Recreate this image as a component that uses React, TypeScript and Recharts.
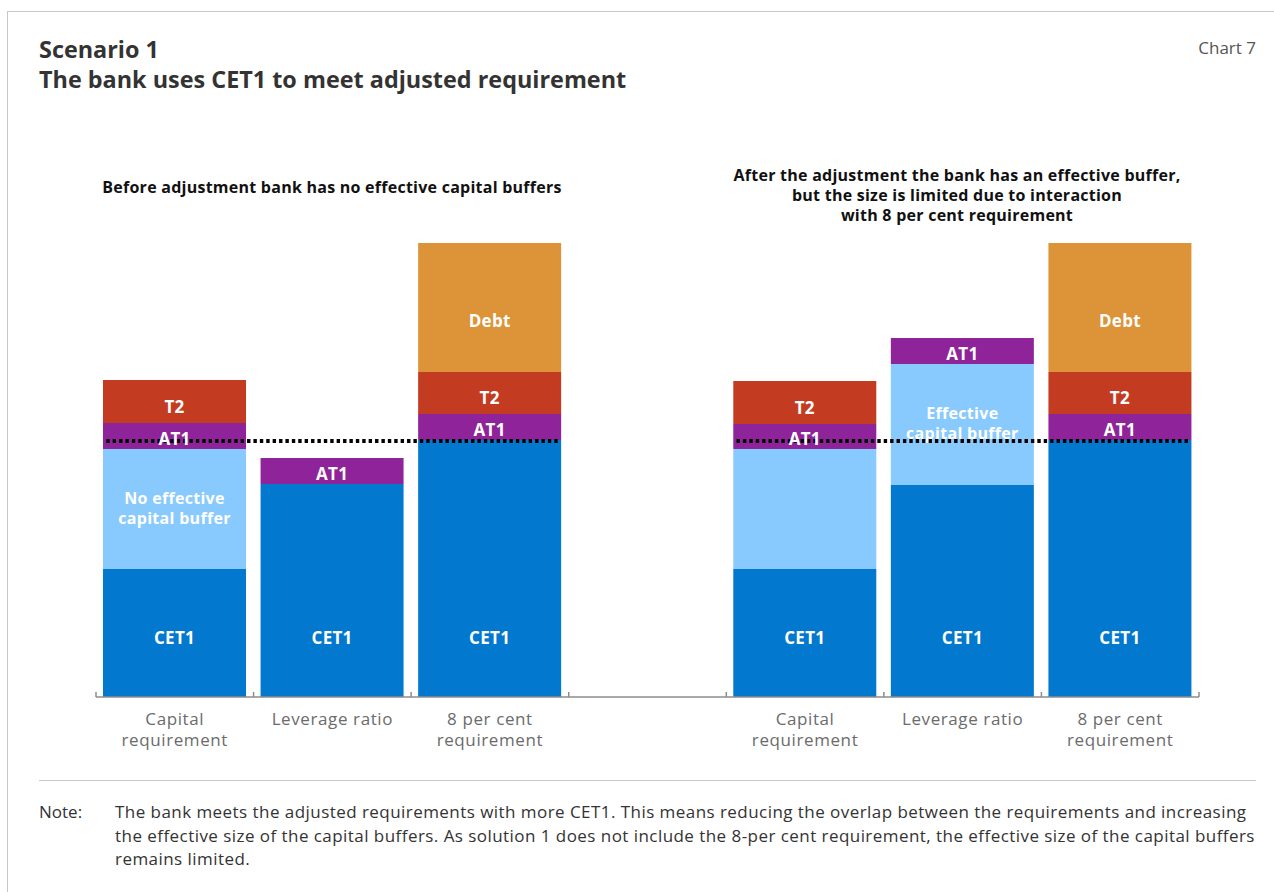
import { Bar, BarChart, LabelList, ReferenceLine, XAxis, YAxis } from 'recharts';

const FONT = '"Open Sans", "Noto Sans", sans-serif';

const categories = [
  'Capital requirement',
  'Leverage ratio',
  '8 per cent requirement',
  '',
  'Capital requirement',
  'Leverage ratio',
  '8 per cent requirement',
];

// Stacked segments, bottom to top (arbitrary units).
const cet1 = [12.8, 21.3, 25.7, 0, 12.8, 21.2, 25.7];
const buffer = [12.0, 0, 0, 0, 12.0, 12.1, 0];
const at1 = [2.6, 2.6, 2.6, 0, 2.5, 2.6, 2.6];
const t2 = [4.3, 0, 4.2, 0, 4.3, 0, 4.2];
const debt = [0, 0, 12.9, 0, 0, 0, 12.9];

const cet1Labels = ['CET1', 'CET1', 'CET1', '', 'CET1', 'CET1', 'CET1'];
const bufferLabels = ['No effective capital buffer', '', '', '', '', 'Effective capital buffer', ''];
const at1Labels = ['AT1', 'AT1', 'AT1', '', 'AT1', 'AT1', 'AT1'];
const t2Labels = ['T2', '', 'T2', '', 'T2', '', 'T2'];
const debtLabels = ['', '', 'Debt', '', '', '', 'Debt'];

// Dotted line: level of CET1 in the 8 per cent requirement, drawn over each panel.
const dottedLevel = 25.6;
const panels = [
  { from: 0, to: 3 },
  { from: 4, to: 7 },
];

const Y_MAX = 50;

const COLORS = {
  cet1: '#0378cf',
  buffer: '#88cafd',
  at1: '#8f2399',
  t2: '#c33c21',
  debt: '#dd9338',
};

const data = categories.map((category, i) => ({
  category,
  slot: i,
  cet1: cet1[i],
  buffer: buffer[i],
  at1: at1[i],
  t2: t2[i],
  debt: debt[i],
  cet1Label: cet1Labels[i],
  bufferLabel: bufferLabels[i],
  at1Label: at1Labels[i],
  t2Label: t2Labels[i],
  debtLabel: debtLabels[i],
}));

const boundaryTicks = Array.from({ length: categories.length + 1 }, (_, i) => i);

// fraction of a band left empty on each side of a bar
const BAR_INSET = 0.065;

function segmentLabel(nudge: number, fromBottom?: number, fontSize = 17) {
  return (props: any) => {
    const box = props.viewBox ?? props;
    const { x, y, width, height } = box;
    if (!props.value || !height) return null;
    const cy = fromBottom != null ? y + height - fromBottom : y + height / 2 + nudge;
    const text = String(props.value);
    const lines = text.includes(' capital') ? text.split(/ (?=capital)/) : [text];
    const lineH = 20;
    const firstBaseline = cy - ((lines.length - 1) * lineH) / 2 + fontSize * 0.36;
    return (
      <text
        x={x + width / 2}
        y={firstBaseline}
        textAnchor="middle"
        fill="#ffffff"
        fontSize={fontSize}
        fontWeight={700}
        fontFamily={FONT}
        style={{ letterSpacing: 0.3 }}
      >
        {lines.map((l, i) => (
          <tspan key={i} x={x + width / 2} dy={i === 0 ? 0 : lineH}>
            {l}
          </tspan>
        ))}
      </text>
    );
  };
}

function CategoryTick({ x, y, payload }: any) {
  const value: string = payload?.value ?? '';
  if (!value) return null;
  const lines = value.includes(' requirement')
    ? [value.replace(' requirement', ''), 'requirement']
    : [value];
  return (
    <text
      x={x}
      y={y}
      textAnchor="middle"
      fill="#6b6b6b"
      fontSize={17}
      fontFamily={FONT}
      style={{ letterSpacing: 0.6 }}
    >
      {lines.map((l, i) => (
        <tspan key={i} x={x} dy={i === 0 ? 20 : 21}>
          {l}
        </tspan>
      ))}
    </text>
  );
}

export default function App() {
  return (
    <div
      style={{
        position: 'absolute',
        left: 0,
        top: 0,
        width: 1274,
        height: 892,
        background: '#fff',
        fontFamily: FONT,
        color: '#333',
        overflow: 'hidden',
      }}
    >
      <div
        style={{
          position: 'absolute',
          left: 7,
          top: 11,
          width: 1267,
          height: 881,
          borderTop: '1px solid #c8c8c8',
          borderLeft: '1px solid #c8c8c8',
        }}
      />
      <div style={{ position: 'absolute', left: 0, top: 0 }}>
        <BarChart
          width={1274}
          height={892}
          data={data}
          barSize={143}
          margin={{ top: 197, right: 75, bottom: 135, left: 96 }}
        >
          <YAxis hide domain={[0, Y_MAX]} />
          <XAxis
            xAxisId="num"
            dataKey="slot"
            type="number"
            domain={[0, categories.length]}
            allowDataOverflow
            ticks={boundaryTicks}
            tickFormatter={() => ''}
            tickSize={5}
            mirror
            height={5}
            axisLine={{ stroke: '#8c8c8c', strokeWidth: 1.5 }}
            tickLine={{ stroke: '#8c8c8c', strokeWidth: 1.5 }}
          />
          <XAxis
            xAxisId="cat"
            dataKey="category"
            height={60}
            interval={0}
            axisLine={false}
            tickLine={false}
            tick={<CategoryTick />}
          />
          <Bar xAxisId="cat" dataKey="cet1" stackId="s" fill={COLORS.cet1} isAnimationActive={false}>
            <LabelList dataKey="cet1Label" content={segmentLabel(0, 59)} />
          </Bar>
          <Bar xAxisId="cat" dataKey="buffer" stackId="s" fill={COLORS.buffer} isAnimationActive={false}>
            <LabelList dataKey="bufferLabel" content={segmentLabel(-1, undefined, 16)} />
          </Bar>
          <Bar xAxisId="cat" dataKey="at1" stackId="s" fill={COLORS.at1} isAnimationActive={false}>
            <LabelList dataKey="at1Label" content={segmentLabel(2.5)} />
          </Bar>
          <Bar xAxisId="cat" dataKey="t2" stackId="s" fill={COLORS.t2} isAnimationActive={false}>
            <LabelList dataKey="t2Label" content={segmentLabel(5)} />
          </Bar>
          <Bar xAxisId="cat" dataKey="debt" stackId="s" fill={COLORS.debt} isAnimationActive={false}>
            <LabelList dataKey="debtLabel" content={segmentLabel(13)} />
          </Bar>
          {panels.map((p, i) => (
            <ReferenceLine
              key={i}
              xAxisId="num"
              segment={[
                { x: p.from + BAR_INSET, y: dottedLevel },
                { x: p.to - BAR_INSET, y: dottedLevel },
              ]}
              stroke="#000"
              strokeWidth={4}
              strokeDasharray="3.4 3"
            />
          ))}
        </BarChart>
      </div>

      <div
        style={{
          position: 'absolute',
          left: 39,
          top: 34,
          fontSize: 23.4,
          fontWeight: 700,
          lineHeight: '30px',
          color: '#333',
        }}
      >
        <div>Scenario 1</div>
        <div>The bank uses CET1 to meet adjusted requirement</div>
      </div>
      <div
        style={{
          position: 'absolute',
          right: 18,
          top: 36,
          fontSize: 17,
          color: '#555',
        }}
      >
        Chart 7
      </div>

      <div
        style={{
          position: 'absolute',
          left: 82,
          width: 500,
          top: 177,
          textAlign: 'center',
          fontSize: 16,
          letterSpacing: 0.25,
          fontWeight: 700,
          lineHeight: '20px',
          color: '#111',
        }}
      >
        Before adjustment bank has no effective capital buffers
      </div>
      <div
        style={{
          position: 'absolute',
          left: 707,
          width: 500,
          top: 165,
          textAlign: 'center',
          fontSize: 16,
          letterSpacing: 0.25,
          fontWeight: 700,
          lineHeight: '20px',
          color: '#111',
        }}
      >
        <div>After the adjustment the bank has an effective buffer,</div>
        <div>but the size is limited due to interaction</div>
        <div>with 8 per cent requirement</div>
      </div>

      <div
        style={{
          position: 'absolute',
          left: 39,
          top: 780,
          width: 1217,
          borderTop: '1px solid #c8c8c8',
        }}
      />
      <div
        style={{
          position: 'absolute',
          left: 39,
          top: 800,
          fontSize: 17,
          lineHeight: '23.5px',
          color: '#333',
        }}
      >
        Note:
      </div>
      <div
        style={{
          position: 'absolute',
          left: 115,
          top: 800,
          width: 1150,
          fontSize: 17,
          letterSpacing: 0.45,
          lineHeight: '23.5px',
          color: '#333',
          whiteSpace: 'nowrap',
        }}
      >
        <div>
          The bank meets the adjusted requirements with more CET1. This means reducing the overlap
          between the requirements and increasing
        </div>
        <div>
          the effective size of the capital buffers. As solution 1 does not include the 8-per cent
          requirement, the effective size of the capital buffers
        </div>
        <div>remains limited.</div>
      </div>
    </div>
  );
}
